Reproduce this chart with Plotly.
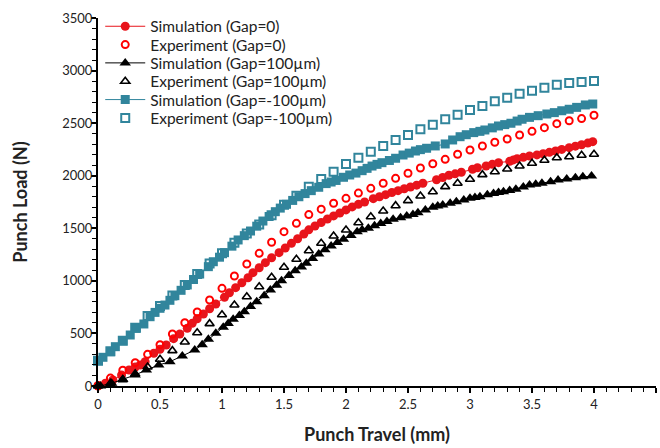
import plotly.graph_objects as go

# ---- data: punch load (N) vs punch travel (mm) ----
exp_x = [0.0, 0.1, 0.2, 0.3, 0.4, 0.5, 0.6, 0.7, 0.8, 0.9, 1.0, 1.1, 1.2, 1.3, 1.4,
         1.5, 1.6, 1.7, 1.8, 1.9, 2.0, 2.1, 2.2, 2.3, 2.4, 2.5, 2.6, 2.7, 2.8, 2.9,
         3.0, 3.1, 3.2, 3.3, 3.4, 3.5, 3.6, 3.7, 3.8, 3.9, 4.0]

exp_gap0 = [5, 75, 150, 222, 301, 393, 495, 602, 704, 818, 929, 1046, 1160, 1262, 1367,
            1468, 1547, 1630, 1682, 1738, 1785, 1835, 1880, 1928, 1975, 2023, 2073, 2114,
            2156, 2204, 2245, 2283, 2318, 2349, 2387, 2422, 2457, 2495, 2523, 2543, 2575]

exp_gap100 = [0, 25, 60, 115, 180, 254, 336, 418, 507, 593, 678, 770, 849, 944, 1034,
              1129, 1205, 1287, 1357, 1427, 1484, 1553, 1610, 1664, 1715, 1763, 1807, 1848,
              1896, 1928, 1966, 2010, 2038, 2064, 2092, 2118, 2147, 2171, 2181, 2194, 2204]

exp_gapm100 = [240, 330, 430, 555, 665, 760, 860, 960, 1065, 1165, 1262, 1363, 1450, 1535,
               1625, 1724, 1810, 1896, 1969, 2038, 2111, 2171, 2228, 2283, 2340, 2387, 2442,
               2485, 2537, 2580, 2625, 2663, 2708, 2742, 2780, 2809, 2837, 2866, 2882, 2891, 2901]

sim0_x = [0.0, 0.06, 0.12, 0.19, 0.25, 0.30, 0.34, 0.38, 0.45, 0.50, 0.55, 0.61, 0.66, 0.72,
          0.76, 0.80, 0.85, 0.90, 0.95, 1.02, 1.06, 1.11, 1.16, 1.21, 1.25, 1.30, 1.35, 1.40,
          1.46, 1.51, 1.56, 1.61, 1.66, 1.70, 1.75, 1.80, 1.85, 1.90, 1.95, 2.00, 2.05, 2.10,
          2.15, 2.22, 2.27, 2.32, 2.37, 2.42, 2.47, 2.52, 2.57, 2.62, 2.73, 2.78, 2.83, 2.88,
          2.93, 3.02, 3.06, 3.13, 3.18, 3.23, 3.32, 3.35, 3.38, 3.43, 3.48, 3.54, 3.59, 3.64,
          3.69, 3.74, 3.80, 3.85, 3.90, 3.95, 3.99]
sim0_y = [0, 26, 57, 105, 152, 180, 200, 231, 311, 350, 390, 450, 495, 549,
          596, 640, 685, 735, 780, 844, 887, 935, 982, 1030, 1078, 1125, 1173, 1220,
          1268, 1312, 1357, 1400, 1446, 1485, 1522, 1555, 1588, 1618, 1645, 1675, 1703, 1728,
          1750, 1782, 1800, 1820, 1840, 1858, 1876, 1893, 1910, 1928, 1962, 1983, 2004, 2018,
          2033, 2061, 2076, 2092, 2108, 2124, 2137, 2150, 2162, 2175, 2188, 2198, 2209, 2222,
          2235, 2250, 2267, 2281, 2295, 2310, 2324]

sim100_x = [0.02, 0.11, 0.20, 0.30, 0.39, 0.49, 0.58, 0.68, 0.78, 0.84, 0.89, 0.95, 1.01, 1.05,
            1.09, 1.14, 1.18, 1.23, 1.28, 1.34, 1.39, 1.44, 1.48, 1.54, 1.59, 1.64, 1.68, 1.73,
            1.78, 1.83, 1.88, 1.93, 1.98, 2.04, 2.09, 2.13, 2.18, 2.23, 2.28, 2.33, 2.38, 2.44,
            2.49, 2.54, 2.58, 2.64, 2.70, 2.74, 2.78, 2.84, 2.89, 2.95, 3.00, 3.04, 3.08, 3.14,
            3.19, 3.23, 3.27, 3.32, 3.37, 3.43, 3.48, 3.53, 3.58, 3.65, 3.71, 3.78, 3.85, 3.91,
            3.98]
sim100_y = [0, 26, 64, 105, 152, 200, 231, 285, 342, 392, 444, 501, 558, 595,
            634, 670, 707, 755, 802, 858, 913, 958, 1002, 1050, 1097, 1132, 1167, 1212,
            1255, 1295, 1332, 1365, 1395, 1432, 1468, 1485, 1500, 1525, 1545, 1565, 1585, 1600,
            1617, 1632, 1648, 1675, 1700, 1712, 1722, 1738, 1753, 1770, 1785, 1792, 1800, 1818,
            1832, 1840, 1848, 1860, 1871, 1892, 1912, 1920, 1928, 1943, 1959, 1969, 1981, 1991,
            1997]

simm100_x = [0.0, 0.04, 0.10, 0.14, 0.20, 0.26, 0.31, 0.37, 0.42, 0.46, 0.50, 0.54, 0.58, 0.62,
             0.67, 0.72, 0.77, 0.82, 0.89, 0.93, 0.98, 1.02, 1.08, 1.13, 1.18, 1.23, 1.28, 1.33,
             1.38, 1.43, 1.47, 1.52, 1.57, 1.62, 1.67, 1.72, 1.78, 1.84, 1.88, 1.92, 1.98, 2.03,
             2.08, 2.13, 2.17, 2.21, 2.25, 2.29, 2.35, 2.40, 2.46, 2.51, 2.56, 2.60, 2.65, 2.72,
             2.80, 2.86, 2.92, 2.97, 3.03, 3.08, 3.12, 3.18, 3.23, 3.28, 3.33, 3.38, 3.42, 3.48,
             3.55, 3.62, 3.68, 3.74, 3.80, 3.86, 3.93, 3.99]
simm100_y = [241, 273, 326, 374, 431, 485, 549, 590, 659, 700, 739, 770, 815, 859,
             910, 961, 1013, 1065, 1135, 1182, 1225, 1268, 1330, 1389, 1430, 1474, 1520, 1569,
             1612, 1658, 1692, 1728, 1765, 1800, 1830, 1858, 1890, 1925, 1940, 1955, 1985, 2007,
             2025, 2048, 2070, 2092, 2108, 2124, 2145, 2166, 2197, 2215, 2235, 2248, 2261, 2283,
             2302, 2340, 2371, 2390, 2410, 2422, 2435, 2455, 2473, 2486, 2499, 2520, 2537, 2555,
             2571, 2587, 2600, 2618, 2632, 2650, 2673, 2682]

RED = "#e8141b"
RED_OPEN = "#ff0000"
TEAL = "#31859c"
BLACK = "#000000"

FONT = "Lato, 'Open Sans', sans-serif"

# each series gets its own legend box so the rows can sit tightly stacked
legend_ids = ["legend", "legend2", "legend3", "legend4", "legend5", "legend6"]

fig = go.Figure()

fig.add_trace(go.Scatter(
    x=sim0_x, y=sim0_y, name="Simulation (Gap=0)", mode="lines+markers",
    line=dict(color=RED, width=1),
    marker=dict(symbol="circle", size=9, color=RED, line=dict(width=0)),
    cliponaxis=False, legend=legend_ids[0]))
fig.add_trace(go.Scatter(
    x=exp_x, y=exp_gap0, name="Experiment (Gap=0)", mode="markers",
    marker=dict(symbol="circle-open", size=7, color=RED_OPEN, line=dict(width=2)),
    cliponaxis=False, legend=legend_ids[1]))
fig.add_trace(go.Scatter(
    x=sim100_x, y=sim100_y, name="Simulation (Gap=100µm)", mode="lines+markers",
    line=dict(color=BLACK, width=1),
    marker=dict(symbol="triangle-up", size=10, color=BLACK, line=dict(width=0)),
    cliponaxis=False, legend=legend_ids[2]))
fig.add_trace(go.Scatter(
    x=exp_x, y=exp_gap100, name="Experiment (Gap=100µm)", mode="markers",
    marker=dict(symbol="triangle-up-open", size=8, color=BLACK, line=dict(width=1.6)),
    cliponaxis=False, legend=legend_ids[3]))
fig.add_trace(go.Scatter(
    x=simm100_x, y=simm100_y, name="Simulation (Gap=-100µm)", mode="lines+markers",
    line=dict(color=TEAL, width=1),
    marker=dict(symbol="square", size=9, color=TEAL, line=dict(width=0)),
    cliponaxis=False, legend=legend_ids[4]))
fig.add_trace(go.Scatter(
    x=exp_x, y=exp_gapm100, name="Experiment (Gap=-100µm)", mode="markers",
    marker=dict(symbol="square-open", size=8, color=TEAL, line=dict(width=2)),
    cliponaxis=False, legend=legend_ids[5]))

axis_common = dict(
    showline=True, linecolor="black", linewidth=2, mirror=False,
    ticks="outside", ticklen=5, tickwidth=1.5, tickcolor="black",
    showgrid=False, zeroline=False,
    tickfont=dict(family=FONT, size=13, color="#222"),
)

fig.update_xaxes(
    range=[0, 4.5], dtick=0.5, tick0=0,
    minor=dict(dtick=0.1, ticks="outside", ticklen=4, tickwidth=1, tickcolor="black"),
    title=dict(text="<b>Punch Travel (mm)</b>", font=dict(family=FONT, size=18, color="#222"),
               standoff=18),
    **axis_common)
fig.update_yaxes(
    range=[0, 3500], dtick=500, tick0=0,
    minor=dict(dtick=100, ticks="outside", ticklen=4, tickwidth=1, tickcolor="black"),
    title=dict(text="<b>Punch Load (N)</b>", font=dict(family=FONT, size=18, color="#222"),
               standoff=30),
    ticklabelstandoff=-4,
    **axis_common)

# legend row centres, as fractions of the plot height from the bottom
row_y = [0.9764, 0.9266, 0.8769, 0.8269, 0.7772, 0.7274]
legend_layout = {}
for lid, ry in zip(legend_ids, row_y):
    legend_layout[lid] = dict(
        x=0.004, y=ry, xanchor="left", yanchor="middle",
        bgcolor="rgba(0,0,0,0)", itemwidth=40,
        font=dict(family=FONT, size=15.5, color="#222"))

fig.update_layout(
    width=660, height=448,
    margin=dict(l=98, r=4, t=18, b=62),
    paper_bgcolor="white", plot_bgcolor="white",
    font=dict(family=FONT, size=14, color="#222"),
    showlegend=True,
    **legend_layout,
)

fig.write_html("out.html")
